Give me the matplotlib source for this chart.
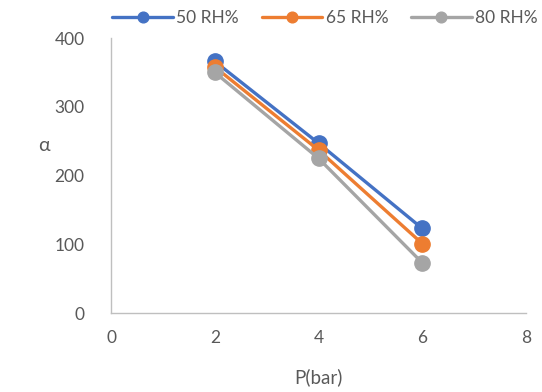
import matplotlib
matplotlib.use("Agg")
import matplotlib.pyplot as plt

plt.rcParams['font.family'] = ['Lato', 'DejaVu Sans']

x = [2, 4, 6]
series_names = ["50 RH%", "65 RH%", "80 RH%"]
rh50 = [366, 247, 123]
rh65 = [358, 237, 101]
rh80 = [350, 225, 73]
colors = ["#4472C4", "#ED7D31", "#A5A5A5"]
xticks = [0, 2, 4, 6, 8]
yticks = [0, 100, 200, 300, 400]

fig = plt.figure(figsize=(5.42, 3.92), dpi=100)
ax = fig.add_axes([0.2048, 0.2015, 0.7657, 0.7015])

for vals, name, c in zip([rh50, rh65, rh80], series_names, colors):
    ax.plot(x, vals, color=c, lw=2.4, marker='o', ms=11, label=name,
            solid_capstyle='round')

ax.set_xlim(0, 8)
ax.set_ylim(0, 400)
ax.set_xticks(xticks)
ax.set_yticks(yticks)
txt = "#595959"
ax.tick_params(length=0, labelsize=12.5, colors=txt)
ax.tick_params(axis='x', pad=12)
ax.tick_params(axis='y', pad=19)
for s in ['top', 'right']:
    ax.spines[s].set_visible(False)
for s in ['left', 'bottom']:
    ax.spines[s].set_color("#BFBFBF")
    ax.spines[s].set_linewidth(1)

fig.text(318 / 542, 1 - 377 / 392, "P(bar)", ha='center', va='center', fontsize=13.5, color=txt)
fig.text(44 / 542, 1 - 145 / 392, "α", ha='center', va='center', fontsize=14, color=txt)

leg = fig.legend(loc='center', bbox_to_anchor=(325 / 542, 1 - 18 / 392), ncol=3,
                 frameon=False, fontsize=12.5, handlelength=3.5, handletextpad=0.2,
                 columnspacing=1.3, markerscale=0.7)
for t in leg.get_texts():
    t.set_color(txt)

fig.savefig("out.png", dpi=100)
